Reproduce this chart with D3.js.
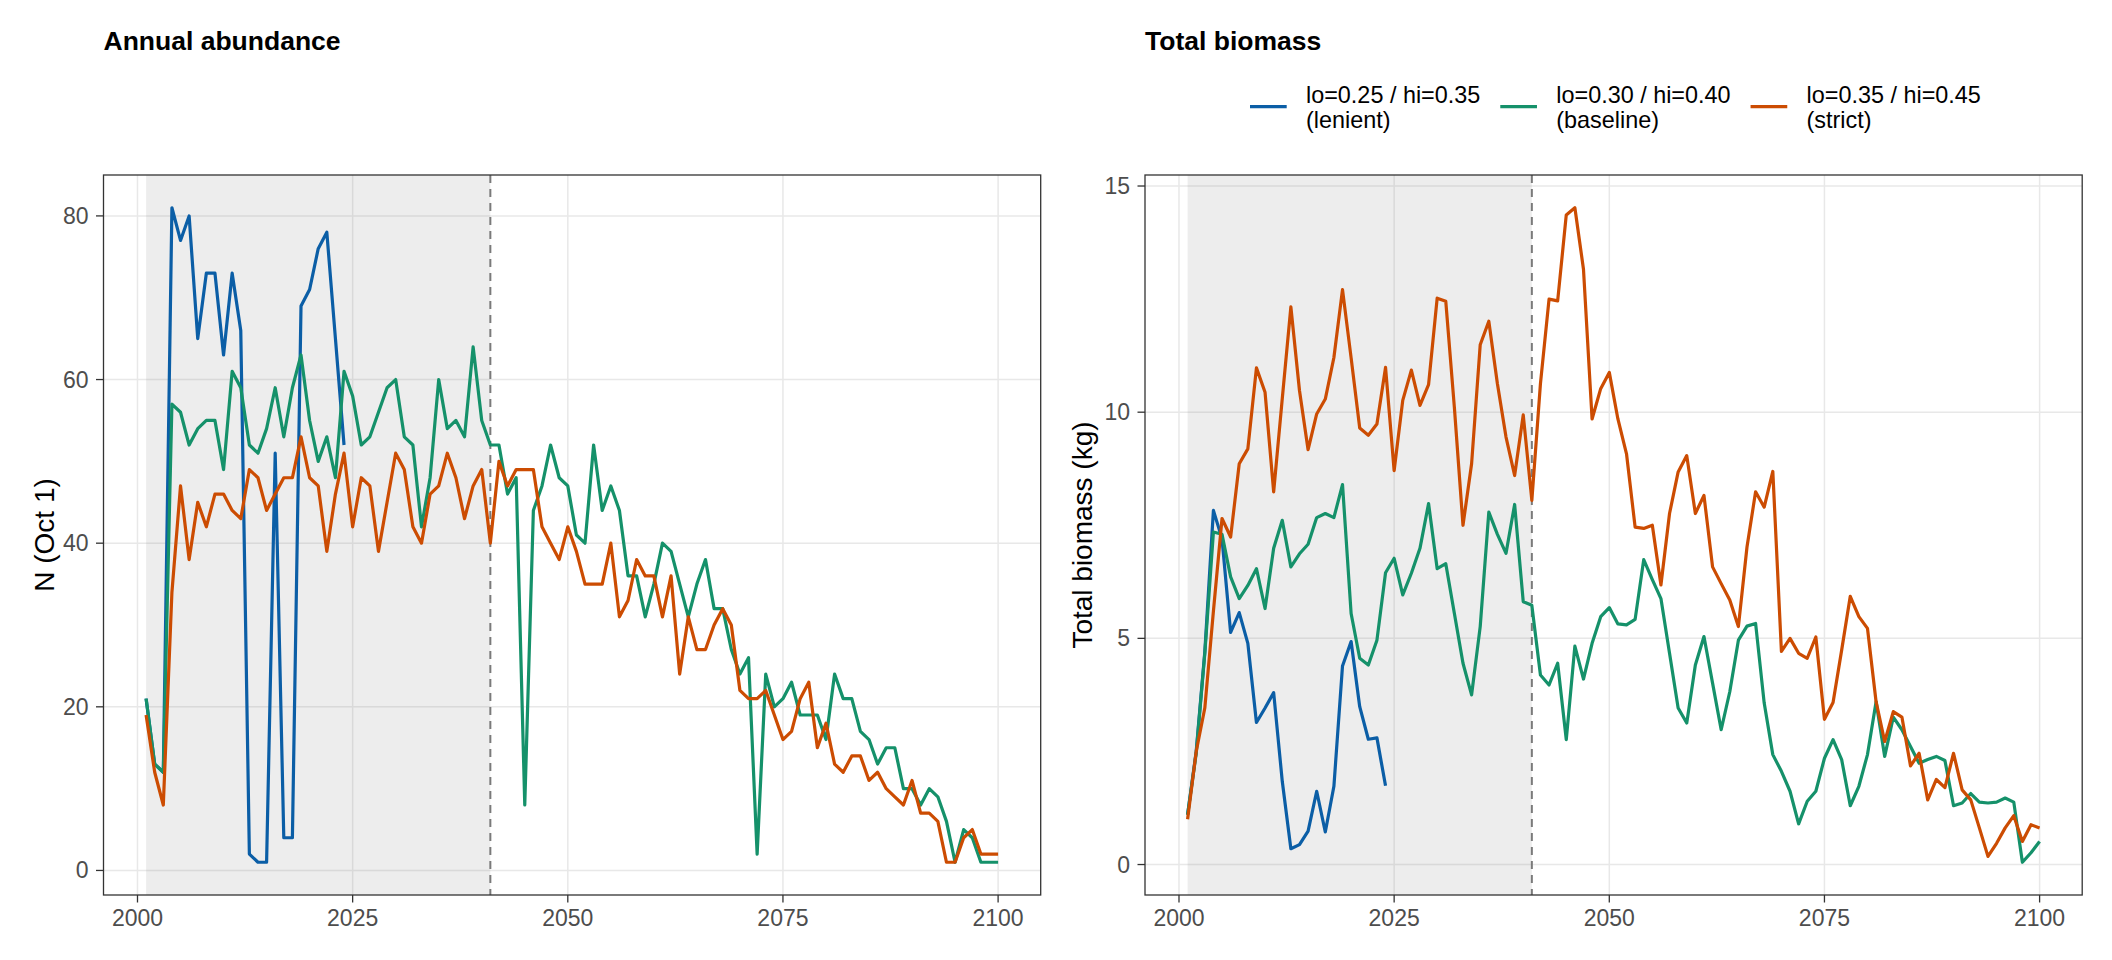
<!DOCTYPE html>
<html>
<head>
<meta charset="utf-8">
<script src="https://cdn.jsdelivr.net/npm/d3@7/dist/d3.min.js"></script>
<style>
  html, body { margin: 0; padding: 0; background: #ffffff; }
  svg { display: block; }
  text { font-family: "Liberation Sans", Arial, Helvetica, sans-serif; }
</style>
</head>
<body>
<svg id="chart" width="2112" height="960"></svg>
<script>
// ---------------- DATA ----------------
const startYear = 2001;
const endYear = 2100;
const shadeStart = 2001;
const shadeEnd = 2041;

const seriesNames = ["lenient", "baseline", "strict"];
const legendLine1 = ["lo=0.25 / hi=0.35", "lo=0.30 / hi=0.40", "lo=0.35 / hi=0.45"];
const legendLine2 = ["(lenient)", "(baseline)", "(strict)"];

const xTicks = [2000, 2025, 2050, 2075, 2100];
const abundTicks = [0, 20, 40, 60, 80];
const biomassTicks = [0, 5, 10, 15];

const panelTitles = ["Annual abundance", "Total biomass"];
const yTitles = ["N (Oct 1)", "Total biomass (kg)"];

// Annual abundance (N on Oct 1)
const abundLenient = [21, 13, 12, 81, 77, 80, 65, 73, 73, 63, 73, 66, 2, 1, 1, 51, 4, 4, 69, 71,
  76, 78, 65, 52];
const abundBaseline = [21, 13, 12, 57, 56, 52, 54, 55, 55, 49, 61, 59, 52, 51, 54, 59, 53, 59, 63, 55,
  50, 53, 48, 61, 58, 52, 53, 56, 59, 60, 53, 52, 42, 48, 60, 54, 55, 53, 64, 55,
  52, 52, 46, 48, 8, 44, 47, 52, 48, 47, 41, 40, 52, 44, 47, 44, 36, 36, 31, 35,
  40, 39, 35, 31, 35, 38, 32, 32, 27, 24, 26, 2, 24, 20, 21, 23, 19, 19, 19, 16,
  24, 21, 21, 17, 16, 13, 15, 15, 10, 10, 8, 10, 9, 6, 1, 5, 4, 1, 1, 1];
const abundStrict = [19, 12, 8, 34, 47, 38, 45, 42, 46, 46, 44, 43, 49, 48, 44, 46, 48, 48, 53, 48,
  47, 39, 46, 51, 42, 48, 47, 39, 45, 51, 49, 42, 40, 46, 47, 51, 48, 43, 47, 49,
  40, 50, 47, 49, 49, 49, 42, 40, 38, 42, 39, 35, 35, 35, 40, 31, 33, 38, 36, 36,
  31, 36, 24, 31, 27, 27, 30, 32, 30, 22, 21, 21, 22, 19, 16, 17, 21, 23, 15, 18,
  13, 12, 14, 14, 11, 12, 10, 9, 8, 11, 7, 7, 6, 1, 1, 4, 5, 2, 2, 2];

// Total biomass (kg)
const biomassLenient = [1.1, 2.5, 4.7, 7.83, 7.2, 5.13, 5.57, 4.89, 3.14, 3.46, 3.8, 1.84, 0.35, 0.44, 0.74, 1.62, 0.72, 1.73, 4.39, 4.93,
  3.49, 2.77, 2.8, 1.74];
const biomassBaseline = [1.1, 2.46, 4.67, 7.35, 7.3, 6.36, 5.88, 6.17, 6.54, 5.66, 6.99, 7.61, 6.58, 6.87, 7.08, 7.67, 7.76, 7.67, 8.4, 5.55,
  4.56, 4.41, 4.96, 6.45, 6.77, 5.96, 6.44, 6.99, 7.98, 6.54, 6.65, 5.55, 4.45, 3.75, 5.26, 7.79, 7.3, 6.88, 7.96, 5.81,
  5.73, 4.19, 3.97, 4.45, 2.76, 4.83, 4.1, 4.89, 5.48, 5.68, 5.32, 5.3, 5.42, 6.74, 6.3, 5.88, 4.67, 3.46, 3.13, 4.41,
  5.04, 4.01, 2.98, 3.82, 4.96, 5.27, 5.33, 3.57, 2.43, 2.06, 1.62, 0.9, 1.4, 1.62, 2.35, 2.76, 2.32, 1.3, 1.73, 2.43,
  3.6, 2.39, 3.26, 2.98, 2.61, 2.24, 2.32, 2.39, 2.3, 1.3, 1.36, 1.57, 1.38, 1.36, 1.38, 1.47, 1.38, 0.05, 0.26, 0.51];
const biomassStrict = [1.0, 2.5, 3.46, 5.6, 7.65, 7.24, 8.86, 9.19, 10.98, 10.44, 8.24, 10.3, 12.33, 10.48, 9.17, 9.96, 10.29, 11.21, 12.71, 11.2,
  9.65, 9.49, 9.74, 10.99, 8.71, 10.26, 10.93, 10.15, 10.61, 12.52, 12.45, 10.1, 7.5, 8.86, 11.49, 12.01, 10.63, 9.45, 8.6, 9.94,
  8.05, 10.63, 12.5, 12.46, 14.36, 14.52, 13.16, 9.85, 10.52, 10.88, 9.85, 9.08, 7.46, 7.43, 7.5, 6.18, 7.76, 8.68, 9.04, 7.76,
  8.16, 6.58, 6.21, 5.85, 5.26, 7.02, 8.24, 7.9, 8.69, 4.71, 5.0, 4.67, 4.56, 5.03, 3.21, 3.58, 4.74, 5.93, 5.48, 5.22,
  3.6, 2.72, 3.38, 3.26, 2.18, 2.46, 1.43, 1.88, 1.7, 2.46, 1.65, 1.43, 0.81, 0.18, 0.47, 0.81, 1.08, 0.51, 0.88, 0.81];

// ---------------- STYLE ----------------
const colors = { lenient: "#0b5ea6", baseline: "#15916a", strict: "#cc4c02" };

const svg = d3.select("#chart");
const panelTop = 175, panelBottom = 895;

const panels = [
  { left: 103.5, right: 1040.7, title: panelTitles[0], yTitle: yTitles[0], yTitleX: 44.5,
    ticks: abundTicks,
    series: { lenient: abundLenient, baseline: abundBaseline, strict: abundStrict } },
  { left: 1145, right: 2082.2, title: panelTitles[1], yTitle: yTitles[1], yTitleX: 1082,
    ticks: biomassTicks,
    series: { lenient: biomassLenient, baseline: biomassBaseline, strict: biomassStrict } }
];

function expand(lo, hi) {
  const pad = (hi - lo) * 0.05;
  return [lo - pad, hi + pad];
}

panels.forEach(p => {
  const g = svg.append("g");
  const x = d3.scaleLinear().domain(expand(startYear, endYear)).range([p.left, p.right]);
  const allVals = [].concat(p.series.lenient, p.series.baseline, p.series.strict);
  const y = d3.scaleLinear().domain(expand(d3.min(allVals), d3.max(allVals))).range([panelBottom, panelTop]);

  // grid
  g.append("g").selectAll("line").data(xTicks).join("line")
    .attr("x1", d => x(d)).attr("x2", d => x(d))
    .attr("y1", panelTop).attr("y2", panelBottom)
    .attr("stroke", "#e8e8e8").attr("stroke-width", 1.5);
  g.append("g").selectAll("line").data(p.ticks).join("line")
    .attr("x1", p.left).attr("x2", p.right)
    .attr("y1", d => y(d)).attr("y2", d => y(d))
    .attr("stroke", "#e8e8e8").attr("stroke-width", 1.5);

  // shaded window
  g.append("rect")
    .attr("x", x(shadeStart)).attr("width", x(shadeEnd) - x(shadeStart))
    .attr("y", panelTop).attr("height", panelBottom - panelTop)
    .attr("fill", "#7f7f7f").attr("fill-opacity", 0.14);

  // dashed vertical marker
  g.append("line")
    .attr("x1", x(shadeEnd)).attr("x2", x(shadeEnd))
    .attr("y1", panelTop).attr("y2", panelBottom)
    .attr("stroke", "#7a7a7a").attr("stroke-width", 2)
    .attr("stroke-dasharray", "8,6");

  // lines
  const line = d3.line().x(d => x(d.year)).y(d => y(d.value));
  seriesNames.forEach(name => {
    const vals = p.series[name];
    const pts = vals.map((v, i) => ({ year: startYear + i, value: v }));
    g.append("path").datum(pts)
      .attr("d", line)
      .attr("fill", "none")
      .attr("stroke", colors[name])
      .attr("stroke-width", 3.2)
      .attr("stroke-linejoin", "round")
      .attr("stroke-linecap", "butt");
  });

  // panel border
  g.append("rect")
    .attr("x", p.left).attr("y", panelTop)
    .attr("width", p.right - p.left).attr("height", panelBottom - panelTop)
    .attr("fill", "none").attr("stroke", "#333333").attr("stroke-width", 1.3);

  // x axis
  const xa = g.append("g");
  xa.selectAll("line").data(xTicks).join("line")
    .attr("x1", d => x(d)).attr("x2", d => x(d))
    .attr("y1", panelBottom).attr("y2", panelBottom + 7.5)
    .attr("stroke", "#333333").attr("stroke-width", 1.3);
  xa.selectAll("text").data(xTicks).join("text")
    .attr("x", d => x(d)).attr("y", 926)
    .attr("text-anchor", "middle")
    .attr("font-size", 23).attr("fill", "#4d4d4d")
    .text(d => d);

  // y axis
  const ya = g.append("g");
  ya.selectAll("line").data(p.ticks).join("line")
    .attr("x1", p.left - 7.5).attr("x2", p.left)
    .attr("y1", d => y(d)).attr("y2", d => y(d))
    .attr("stroke", "#333333").attr("stroke-width", 1.3);
  ya.selectAll("text").data(p.ticks).join("text")
    .attr("x", p.left - 15).attr("y", d => y(d) + 8)
    .attr("text-anchor", "end")
    .attr("font-size", 23).attr("fill", "#4d4d4d")
    .text(d => d);

  // y axis title
  g.append("text")
    .attr("transform", `translate(${p.yTitleX + 9.5},${(panelTop + panelBottom) / 2}) rotate(-90)`)
    .attr("text-anchor", "middle")
    .attr("font-size", 28).attr("fill", "#000000")
    .text(p.yTitle);

  // panel title
  g.append("text")
    .attr("x", p.left).attr("y", 49.5)
    .attr("font-size", 26.5).attr("font-weight", "bold").attr("fill", "#000000")
    .text(p.title);
});

// ---------------- LEGEND ----------------
const legend = svg.append("g");
let kx = 1250;
seriesNames.forEach((name, i) => {
  legend.append("line")
    .attr("x1", kx).attr("x2", kx + 36.7)
    .attr("y1", 106.7).attr("y2", 106.7)
    .attr("stroke", colors[name]).attr("stroke-width", 3.3);
  const tx = kx + 56;
  const t1 = legend.append("text")
    .attr("x", tx).attr("y", 102.7)
    .attr("font-size", 23.4).attr("fill", "#000000")
    .text(legendLine1[i]);
  legend.append("text")
    .attr("x", tx).attr("y", 127.5)
    .attr("font-size", 23.4).attr("fill", "#000000")
    .text(legendLine2[i]);
  kx = tx + t1.node().getComputedTextLength() + 20;
});
</script>
</body>
</html>
